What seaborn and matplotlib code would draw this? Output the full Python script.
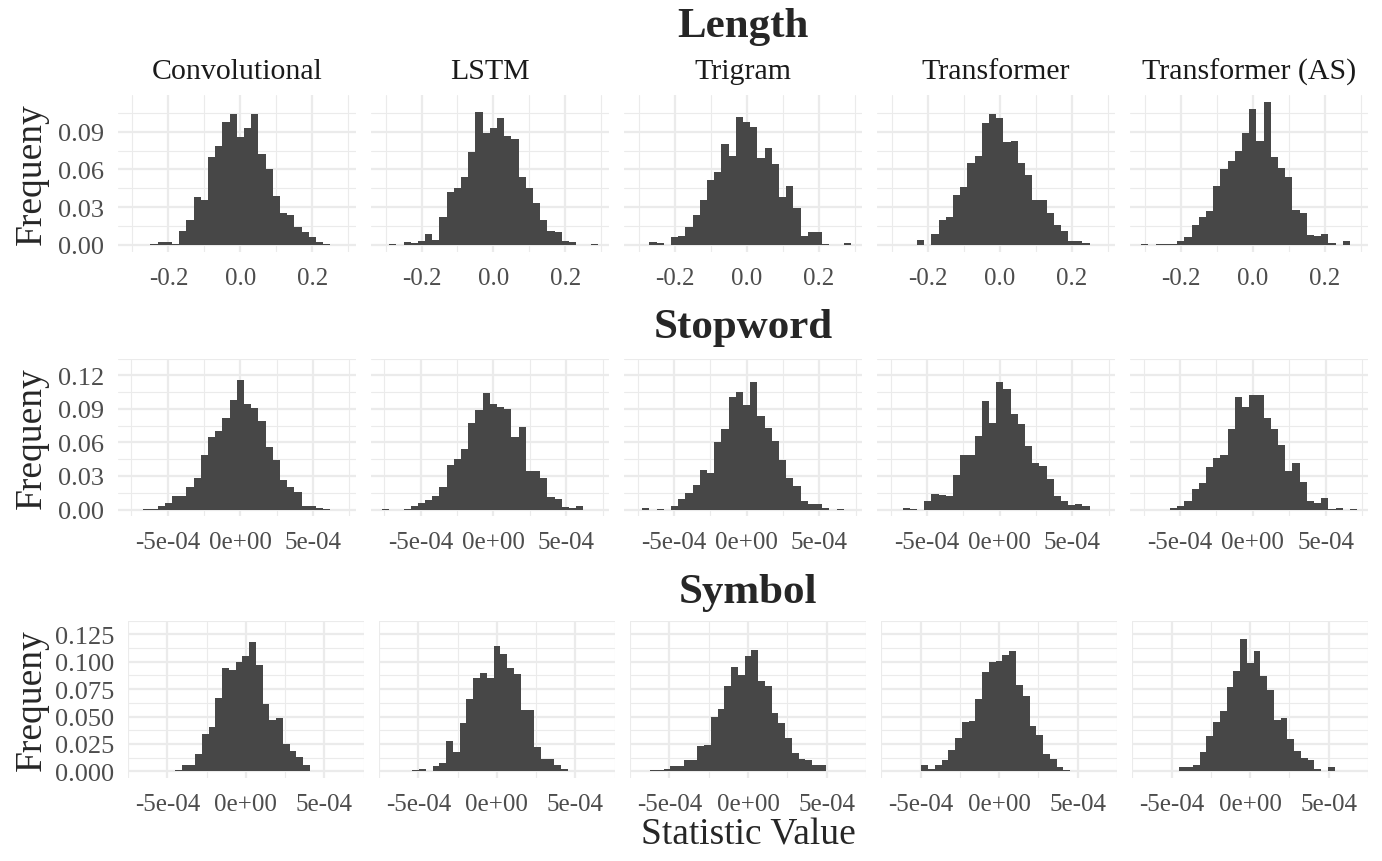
import numpy as np
import pandas as pd
import matplotlib
matplotlib.use("Agg")
import matplotlib.pyplot as plt
import seaborn as sns

models = ["Convolutional", "LSTM", "Trigram", "Transformer", "Transformer (AS)"]
bin_k = list(range(-15, 15))   # bin k is centred on k * width (30 bins)

# ---- Length ----
length_width = 0.02
length_conv = [0, 0, 0, 0.0005, 0.0024, 0.0024, 0.001, 0.011, 0.020, 0.038, 0.036, 0.070, 0.079, 0.098, 0.104,
               0.086, 0.093, 0.104, 0.072, 0.060, 0.039, 0.025, 0.024, 0.014, 0.010, 0.006, 0.002, 0.0005, 0, 0]
length_lstm = [0, 0.0005, 0, 0.0024, 0.0016, 0.003, 0.009, 0.004, 0.022, 0.042, 0.045, 0.054, 0.074, 0.106, 0.089,
               0.093, 0.101, 0.087, 0.084, 0.054, 0.045, 0.033, 0.020, 0.011, 0.010, 0.003, 0.002, 0, 0, 0.0005]
length_trigram = [0, 0, 0.0024, 0.0016, 0, 0.006, 0.007, 0.014, 0.024, 0.036, 0.052, 0.058, 0.080, 0.071, 0.102,
                  0.098, 0.094, 0.069, 0.077, 0.064, 0.038, 0.047, 0.029, 0.007, 0.010, 0.010, 0.0003, 0, 0, 0.0016]
length_transformer = [0, 0, 0, 0, 0.004, 0, 0.009, 0.020, 0.022, 0.040, 0.046, 0.065, 0.071, 0.097, 0.104,
                      0.101, 0.082, 0.083, 0.065, 0.056, 0.036, 0.036, 0.025, 0.016, 0.011, 0.003, 0.003, 0.0016, 0, 0]
length_transformer_as = [0.0003, 0, 0.0003, 0.0003, 0.0003, 0.003, 0.006, 0.016, 0.022, 0.027, 0.047, 0.060, 0.067, 0.075, 0.089,
                         0.108, 0.083, 0.114, 0.070, 0.061, 0.054, 0.028, 0.025, 0.008, 0.007, 0.009, 0.0016, 0, 0.003, 0]
length_xticks = [-0.2, 0.0, 0.2]
length_xlabels = ["-0.2", "0.0", "0.2"]
length_yticks = [0.0, 0.03, 0.06, 0.09]
length_ylabels = ["0.00", "0.03", "0.06", "0.09"]

# ---- Stopword ----
stop_width = 4.95e-5
stop_conv = [0, 0, 0.0005, 0.0005, 0.003, 0.006, 0.012, 0.012, 0.020, 0.028, 0.049, 0.065, 0.070, 0.0815, 0.098,
             0.116, 0.0945, 0.091, 0.079, 0.056, 0.044, 0.026, 0.020, 0.016, 0.003, 0.003, 0.001, 0.0005, 0, 0]
stop_lstm = [0.0005, 0, 0, 0.0005, 0.003, 0.006, 0.0085, 0.012, 0.020, 0.040, 0.045, 0.054, 0.077, 0.089, 0.104,
             0.094, 0.092, 0.090, 0.065, 0.074, 0.034, 0.034, 0.028, 0.011, 0.0098, 0.002, 0.001, 0.003, 0, 0]
stop_trigram = [0, 0.001, 0, 0.0005, 0, 0.003, 0.009, 0.015, 0.022, 0.035, 0.033, 0.060, 0.072, 0.101, 0.105,
                0.093, 0.114, 0.084, 0.073, 0.061, 0.044, 0.028, 0.021, 0.008, 0.005, 0.005, 0.001, 0, 0.0005, 0]
stop_transformer = [0, 0, 0.001, 0.0005, 0, 0.0074, 0.0138, 0.013, 0.0117, 0.031, 0.049, 0.049, 0.066, 0.097, 0.077,
                    0.114, 0.108, 0.085, 0.076, 0.057, 0.042, 0.039, 0.027, 0.012, 0.008, 0.004, 0.005, 0.003, 0, 0]
stop_transformer_as = [0, 0, 0, 0, 0.001, 0.003, 0.008, 0.018, 0.024, 0.038, 0.046, 0.049, 0.072, 0.101, 0.092,
                       0.102, 0.102, 0.082, 0.072, 0.058, 0.034, 0.042, 0.025, 0.008, 0.006, 0.010, 0.0005, 0.0013, 0, 0.0005]
stop_xticks = [-5e-4, 0.0, 5e-4]
stop_xlabels = ["-5e-04", "0e+00", "5e-04"]
stop_yticks = [0.0, 0.03, 0.06, 0.09, 0.12]
stop_ylabels = ["0.00", "0.03", "0.06", "0.09", "0.12"]

# ---- Symbol ----
sym_width = 4.3e-5
sym_conv = [0, 0, 0, 0, 0.0003, 0.0014, 0.006, 0.006, 0.0155, 0.034, 0.040, 0.067, 0.094, 0.092, 0.100,
            0.105, 0.118, 0.097, 0.061, 0.0465, 0.049, 0.025, 0.019, 0.013, 0.006, 0.0003, 0.0003, 0.0003, 0, 0]
sym_lstm = [0, 0, 0, 0.0014, 0.002, 0, 0.005, 0.008, 0.028, 0.0175, 0.044, 0.066, 0.085, 0.090, 0.0855,
            0.114, 0.107, 0.094, 0.089, 0.0555, 0.0555, 0.022, 0.011, 0.011, 0.006, 0.0025, 0.0003, 0.0003, 0, 0]
sym_trigram = [0.0003, 0.0014, 0.0008, 0.002, 0.0048, 0.0048, 0.0104, 0.0104, 0.023, 0.024, 0.0494, 0.057, 0.078, 0.095, 0.088,
               0.105, 0.111, 0.082, 0.078, 0.053, 0.044, 0.030, 0.017, 0.0113, 0.0104, 0.0056, 0.0056, 0.0006, 0, 0]
sym_transformer = [0, 0.0003, 0, 0.0003, 0.0056, 0.0023, 0.0056, 0.0104, 0.0198, 0.030, 0.045, 0.046, 0.066, 0.091, 0.100,
                   0.101, 0.106, 0.1095, 0.079, 0.0686, 0.0415, 0.033, 0.016, 0.0113, 0.0042, 0.0014, 0.0006, 0.0006, 0, 0.0003]
sym_transformer_as = [0, 0, 0, 0.0006, 0.0006, 0.004, 0.004, 0.006, 0.018, 0.0325, 0.045, 0.055, 0.077, 0.0917, 0.121,
                      0.0985, 0.1095, 0.087, 0.074, 0.0466, 0.0486, 0.0296, 0.0183, 0.0121, 0.0107, 0.002, 0.0006, 0.004, 0, 0]
sym_xticks = [-5e-4, 0.0, 5e-4]
sym_xlabels = ["-5e-04", "0e+00", "5e-04"]
sym_yticks = [0.0, 0.025, 0.05, 0.075, 0.1, 0.125]
sym_ylabels = ["0.000", "0.025", "0.050", "0.075", "0.100", "0.125"]

rows = [
    ("Length", length_width,
     [length_conv, length_lstm, length_trigram, length_transformer, length_transformer_as],
     length_xticks, length_xlabels, length_yticks, length_ylabels),
    ("Stopword", stop_width,
     [stop_conv, stop_lstm, stop_trigram, stop_transformer, stop_transformer_as],
     stop_xticks, stop_xlabels, stop_yticks, stop_ylabels),
    ("Symbol", sym_width,
     [sym_conv, sym_lstm, sym_trigram, sym_transformer, sym_transformer_as],
     sym_xticks, sym_xlabels, sym_yticks, sym_ylabels),
]

records = []
for stat, width, series, *_ in rows:
    for model, freqs in zip(models, series):
        for k, f in zip(bin_k, freqs):
            records.append((stat, model, k * width, f))
df = pd.DataFrame(records, columns=["stat", "model", "value", "freq"])

sns.set_style("white")
plt.rcParams["font.family"] = ["Liberation Serif", "DejaVu Serif"]

W, H = 1382, 862
fig = plt.figure(figsize=(W / 100, H / 100), dpi=100)


def px_axes(left, top, w, h):
    return fig.add_axes([left / W, 1 - (top + h) / H, w / W, h / H])


# layout in pixels (each row is its own plot, so the left edge follows the tick labels)
row_left = [118, 118, 128]
panels_right = 1368
panel_gap = 15.6
row_top = [95.5, 359.5, 621.5]
panel_h = 157.5
title_y = [27, 328, 593]
bar_col = "#474747"
grid_col = "#EBEBEB"

for r, (stat, width, series, xt, xl, yt, yl) in enumerate(rows):
    edges = [(k - 0.5) * width for k in bin_k + [bin_k[-1] + 1]]
    ymax = df.loc[df.stat == stat, "freq"].max()
    ystep = yt[1] - yt[0]
    xstep = xt[1] - xt[0]
    xminor = [xt[0] - xstep / 2] + [t + xstep / 2 for t in xt]
    yminor = [t + ystep / 2 for t in yt]
    pw = (panels_right - row_left[r] - 4 * panel_gap) / 5
    for c, model in enumerate(models):
        left = row_left[r] + c * (pw + panel_gap)
        ax = px_axes(left, row_top[r], pw, panel_h)
        sub = df[(df.stat == stat) & (df.model == model)]
        sns.histplot(data=sub, x="value", weights="freq", bins=edges, color=bar_col,
                     alpha=1, linewidth=0, ax=ax)
        for p in ax.patches:
            p.set_antialiased(False)
        ax.set_xlim(edges[0] - 1.5 * width, edges[-1] + 1.5 * width)
        ax.set_ylim(-0.05 * ymax, 1.05 * ymax)
        ax.set_xticks(xt)
        ax.set_xticklabels(xl)
        ax.set_xticks(xminor, minor=True)
        ax.set_yticks(yt)
        ax.set_yticklabels(yl)
        ax.set_yticks(yminor, minor=True)
        ax.set_axisbelow(True)
        ax.grid(which="major", color=grid_col, linewidth=1.6)
        ax.grid(which="minor", color=grid_col, linewidth=0.8)
        for s in ax.spines.values():
            s.set_visible(False)
        ax.tick_params(which="major", length=5.5, width=1.8, color="black",
                       labelcolor="#4D4D4D")
        ax.tick_params(axis="x", which="major", labelsize=18, pad=5)
        ax.tick_params(axis="y", which="major", labelsize=19, pad=4.5)
        ax.tick_params(which="minor", length=0)
        ax.set_xlabel("")
        ax.set_ylabel("")
        if c > 0:
            ax.tick_params(axis="y", left=False, labelleft=False)
        if r == 0:
            fig.text((left + pw / 2) / W, 1 - 72 / H, model,
                     ha="center", va="center", fontsize=21.5, color="#1A1A1A")
    fig.text((row_left[r] + panels_right) / 2 / W, 1 - title_y[r] / H, stat,
             ha="center", va="center", fontsize=31, fontweight="bold")
    fig.text(32 / W, 1 - (row_top[r] + panel_h / 2) / H, "Frequeny", rotation=90,
             ha="center", va="center", fontsize=27)

fig.text((row_left[2] + panels_right) / 2 / W, 1 - 835 / H, "Statistic Value",
         ha="center", va="center", fontsize=27)

fig.savefig("out.png", dpi=100)
